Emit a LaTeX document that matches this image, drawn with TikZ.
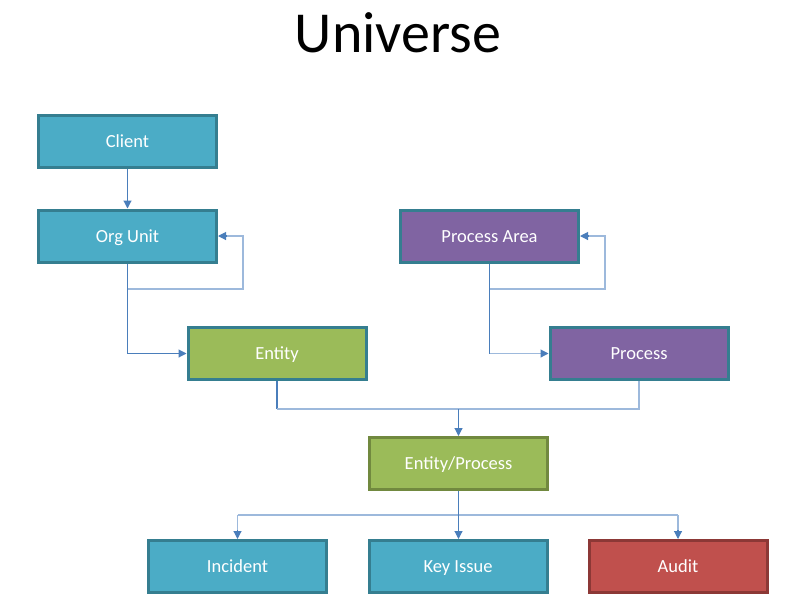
\documentclass[tikz,border=0pt]{standalone}
\usepackage{fontspec}
\setmainfont{Carlito}
\usetikzlibrary{arrows.meta}
\definecolor{tealfill}{HTML}{4BACC6}
\definecolor{tealline}{HTML}{357E90}
\definecolor{olivefill}{HTML}{9BBB59}
\definecolor{oliveline}{HTML}{71893F}
\definecolor{purplefill}{HTML}{8064A2}
\definecolor{redfill}{HTML}{C0504D}
\definecolor{redline}{HTML}{8C3836}
\definecolor{darkcon}{HTML}{4A7EBB}
\definecolor{lightcon}{HTML}{9DB9DC}
\tikzset{
  box/.style={draw=tealline, line width=3pt, minimum width=178pt, minimum height=52pt,
    inner sep=0pt, text=white, text height=12pt, text depth=0pt,
    font=\fontsize{18.5}{22}\selectfont},
  tealbox/.style={box, fill=tealfill},
  greenbox/.style={box, fill=olivefill},
  purplebox/.style={box, fill=purplefill},
  darkcon/.style={draw=darkcon, line width=1.1pt},
  lightcon/.style={draw=lightcon, line width=1.6pt},
  tip/.style={-{Triangle[length=8pt,width=8pt,color=darkcon]}}
}
\begin{document}
\begin{tikzpicture}[x=1pt,y=-1pt]
\useasboundingbox (0,0) rectangle (797,606);
\node (title) at (398,33) {\fontsize{58}{64}\selectfont Universe};

\node[tealbox] (client) at (127.5,141.5) {Client};
\node[tealbox] (org) at (127.5,236) {Org Unit};
\node[purplebox] (parea) at (489.5,236) {Process Area};
\node[greenbox] (entity) at (277,353.5) {Entity};
\node[purplebox] (process) at (639,353.5) {Process};
\node[greenbox, draw=oliveline] (ep) at (458.5,463.5) {Entity/Process};
\node[tealbox] (incident) at (237.5,566.5) {Incident};
\node[tealbox] (keyissue) at (458,566.5) {Key Issue};
\node[box, fill=redfill, draw=redline] (audit) at (678,566.5) {Audit};

\coordinate (orgsplit) at (127.5,289);
\coordinate (orgloop) at (243,289);
\coordinate (pasplit) at (489.5,289);
\coordinate (paloop) at (605,289);
\coordinate (join) at (458.5,409);
\coordinate (fork) at (458.5,515);

% Client -> Org Unit
\draw[darkcon,tip] (client.south) -- (org.north);
% Org Unit loop
\draw[lightcon] (orgsplit) -- (orgloop) -- (orgloop |- org.east) -- ([xshift=8pt]org.east);
\draw[darkcon,tip] ([xshift=8pt]org.east) -- (org.east);
% Org Unit -> Entity
\draw[darkcon,tip] (org.south) |- (entity.west);
% Process Area loop
\draw[lightcon] (pasplit) -- (paloop) -- (paloop |- parea.east) -- ([xshift=8pt]parea.east);
\draw[darkcon,tip] ([xshift=8pt]parea.east) -- (parea.east);
% Process Area -> Process
\draw[darkcon] (parea.south) -- (parea.south |- process.west);
\draw[lightcon] (parea.south |- process.west) -- ([xshift=-8pt]process.west);
\draw[darkcon,tip] ([xshift=-8pt]process.west) -- (process.west);
% Entity, Process -> Entity/Process
\draw[darkcon] (entity.south) -- (entity.south |- join);
\draw[lightcon] (entity.south |- join) -- (process.south |- join) -- (process.south);
\draw[darkcon,tip] (join) -- (ep.north);
% Entity/Process -> bottom row
\draw[lightcon] (incident.north |- fork) -- (audit.north |- fork);
\draw[lightcon] (incident.north |- fork) -- ([yshift=9pt]incident.north);
\draw[darkcon,tip] ([yshift=9pt]incident.north) -- (incident.north);
\draw[lightcon] (audit.north |- fork) -- ([yshift=9pt]audit.north);
\draw[darkcon,tip] ([yshift=9pt]audit.north) -- (audit.north);
\draw[darkcon,tip] (ep.south) -- (ep.south |- keyissue.north);
\end{tikzpicture}
\end{document}
